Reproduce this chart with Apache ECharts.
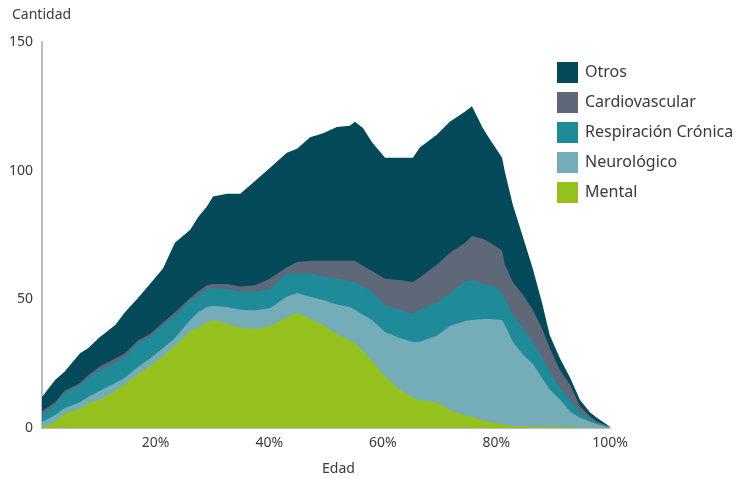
<!DOCTYPE html>
<html>
<head>
<meta charset="utf-8">
<script src="https://cdn.jsdelivr.net/npm/echarts@6/dist/echarts.min.js"></script>
<style>
html,body{margin:0;padding:0;background:#fff;}
#chart{width:745px;height:479px;}
</style>
</head>
<body>
<div id="chart"></div>
<script>
// Edad (% of x axis)
const edad = [0, 2.3, 4.0, 6.7, 8.1, 10.2, 12.9, 14.6, 16.9, 19.0, 21.3, 23.4, 26.1, 27.5, 29.0, 30.1, 32.6, 34.9, 37.5, 40.1, 43.1, 44.9, 47.2, 49.5, 51.9, 54.2, 55.1, 56.5, 58.1, 60.4, 63.0, 65.3, 66.5, 69.5, 71.8, 74.5, 75.7, 77.6, 78.9, 81.0, 81.5, 82.9, 84.7, 86.4, 88.0, 89.4, 91.2, 93.0, 94.7, 96.5, 97.7, 100];

const mental = [0.4, 2.3, 5.6, 7.5, 9.7, 11, 14.5, 17, 21, 24, 28, 32, 37.7, 39, 41, 42, 40.5, 38.9, 38.5, 39.5, 43, 44.7, 42.5, 40, 36.5, 34, 33, 30, 26, 20, 15, 11.7, 11, 10, 7, 5, 4.3, 3, 2.3, 1.5, 1.3, 0.8, 0.7, 0.6, 0.5, 0.5, 0.4, 0.3, 0.2, 0.1, 0.1, 0];
const neurologico = [1.9, 2.7, 2.2, 2.5, 2.3, 3.5, 3, 2.5, 2.7, 3, 3, 3, 4.3, 6, 6, 5.4, 6.5, 7.1, 7.3, 7, 8, 7.8, 8.5, 9.7, 11.5, 13, 13, 14, 16, 17.3, 20, 21.7, 22.5, 25.8, 32.6, 36.6, 37.7, 39.4, 40.1, 40.5, 38.7, 32.6, 27.8, 24.4, 19, 14.5, 10.6, 6, 3.8, 2.4, 1.4, 0.2];
const respiracion = [2.7, 4, 5.8, 6.5, 7.4, 8, 8, 8, 9.3, 8.5, 9, 8.5, 7.7, 6.5, 7, 7, 7, 7, 7.2, 7.5, 9, 7.5, 9, 9.3, 10, 10, 10.7, 11, 11, 10.5, 11, 10.9, 12.5, 12.8, 12.9, 15.4, 15.5, 13.6, 13.2, 11, 10, 10.6, 10.5, 8.4, 8.1, 7, 4.5, 4.7, 2, 1, 0.5, 0.1];
const cardiovascular = [1.5, 1, 0.9, 1, 1.1, 1.5, 1.5, 1.5, 1, 1, 1, 1.5, 0.8, 1.5, 1.5, 1.6, 2, 2, 2.5, 4, 2.5, 4.5, 5, 6, 7, 8, 8.3, 8, 8, 10.2, 11.5, 12.4, 12.5, 14.8, 15.5, 15, 17.1, 17.5, 16.4, 16, 13.4, 12.7, 12.7, 12.6, 11.4, 9, 7, 5.7, 2.5, 1, 0.5, 0.1];
const otros = [5.5, 8.7, 7.5, 11.5, 10.5, 11.4, 13, 16, 16.5, 19.5, 21, 27, 26.5, 29, 30.5, 34, 35, 36, 40.5, 43, 44.5, 44, 48, 49.5, 52, 52.5, 54, 53.6, 50, 47, 47.5, 48.3, 50.5, 50.6, 51, 51, 50.4, 43.1, 40, 36, 36.1, 30, 22.3, 16, 10, 5, 4.5, 2.7, 2.5, 1.5, 1.5, 0.1];

const yTicks = [0, 50, 100, 150];
const xTicks = [20, 40, 60, 80, 100];

// bottom to top
const names = ['Mental', 'Neurológico', 'Respiración Crónica', 'Cardiovascular', 'Otros'];
const colors = ['#95c11f', '#74acb7', '#208b98', '#5e6879', '#03495a'];
const values = [mental, neurologico, respiracion, cardiovascular, otros];

// cumulative totals (stacked), computed from the arrays above
const cumulative = [];
values.forEach((arr, i) => {
  cumulative.push(arr.map((v, j) => v + (i > 0 ? cumulative[i - 1][j] : 0)));
});

const FONT = '"Noto Sans", "Open Sans", sans-serif';

// draw top layer first so lower layers paint over it
const order = [4, 3, 2, 1, 0];

const chart = echarts.init(document.getElementById('chart'), null, {renderer: 'canvas'});
chart.setOption({
  animation: false,
  backgroundColor: '#ffffff',
  textStyle: {fontFamily: FONT},
  grid: {left: 42, right: 135, top: 42, bottom: 51, containLabel: false},
  legend: {
    orient: 'vertical',
    left: 557, top: 62, padding: 0,
    itemWidth: 21, itemHeight: 21, itemGap: 9,
    icon: 'rect',
    data: ['Otros', 'Cardiovascular', 'Respiración Crónica', 'Neurológico', 'Mental'],
    textStyle: {fontFamily: FONT, fontSize: 16, color: '#3a3a3a', padding: [0, 0, 0, 2]}
  },
  xAxis: {
    type: 'value', min: 0, max: 100, interval: 20,
    axisLine: {show: true, lineStyle: {color: '#b7bcc6', width: 2}},
    axisTick: {show: false},
    splitLine: {show: false},
    axisLabel: {
      fontFamily: FONT, fontSize: 14, color: '#3a3a3a', margin: 8,
      formatter: v => (xTicks.indexOf(v) >= 0 ? v + '%' : '')
    }
  },
  yAxis: {
    type: 'value', min: 0, max: 150, interval: 50,
    axisLine: {show: true, lineStyle: {color: '#b7bcc6', width: 2}},
    axisTick: {show: false},
    splitLine: {show: false},
    axisLabel: {
      fontFamily: FONT, fontSize: 14, color: '#3a3a3a', margin: 9,
      formatter: v => (yTicks.indexOf(v) >= 0 ? String(v) : '')
    }
  },
  graphic: [
    {type: 'text', left: 12, top: 8, style: {text: 'Cantidad', fontFamily: FONT, fontSize: 14, fill: '#3a3a3a'}},
    {type: 'text', left: 322, top: 462, style: {text: 'Edad', fontFamily: FONT, fontSize: 14, fill: '#3a3a3a'}}
  ],
  series: order.map(i => ({
    name: names[i],
    type: 'line',
    symbol: 'none',
    smooth: false,
    lineStyle: {width: 0},
    areaStyle: {color: colors[i], opacity: 1},
    itemStyle: {color: colors[i]},
    data: edad.map((x, j) => [x, cumulative[i][j]])
  }))
});
</script>
</body>
</html>
